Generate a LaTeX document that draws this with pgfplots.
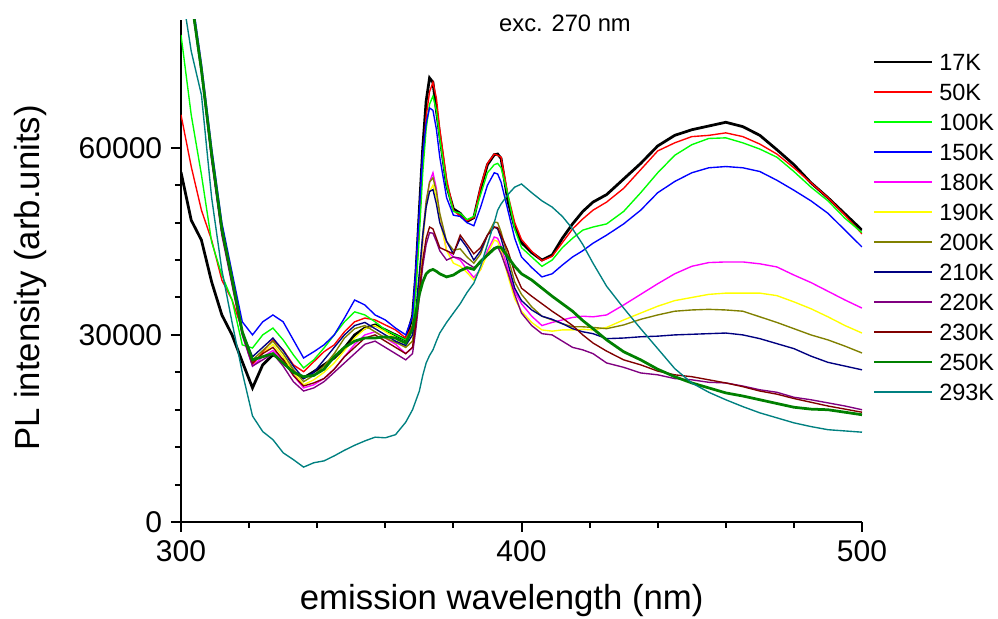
\documentclass[border=0pt]{standalone}
\usepackage{fontspec}
\setmainfont{Liberation Sans}
\usepackage{pgfplots}
\usepackage{pgfplotstable}
\pgfplotsset{compat=1.18}
\definecolor{cgreen}{RGB}{0,255,0}
\definecolor{cmag}{RGB}{255,0,255}
\definecolor{cyel}{RGB}{255,255,0}
\definecolor{colive}{RGB}{128,128,0}
\definecolor{cnavy}{RGB}{0,0,128}
\definecolor{cpurp}{RGB}{128,0,128}
\definecolor{cmaroon}{RGB}{128,0,0}
\definecolor{cdkgreen}{RGB}{0,128,0}
\definecolor{cteal}{RGB}{0,128,128}
% intensities in units of 1000
\pgfplotstableread{
x   k17  k50  k100 k150 k180 k190 k200 k210 k220 k230 k250 k293
300 56.1 65.3 78.1 95   95   95   95   95   95   95   95   86
303 48.4 57.0 65.3 85   84   84   84.5 84   83.5 84   84   75.5
306 45.2 50.0 55.7 73.5 72.5 72.5 73   72.5 72   72.5 72.5 68.5
309 38.5 45.2 44.9 60   58.5 58.5 59   58.5 58   58.5 59   52
312 33.2 38.8 39.6 48   46.5 46.5 47   46.5 46   46.5 47   40.4
315 30.0 35.6 35.6 40   38.5 38.5 39   38.5 38   38.5 39   32.0
318 25.7 30.8 28.4 32.1 30.0 30.3 30.5 30.5 30   30.3 30.5 24
321 21.5 25.2 27.9 30.0 25.0 25.5 26   26.5 25.0 25.5 26.0 17
324 25.2 27.3 30.0 32.1 26.5 27   27.5 28.0 26.0 27.0 26.5 14.5
327 26.8 29.2 31.1 33.2 27.5 28.5 29   29.5 27.0 28.0 27.0 13.2
330 26.0 27.6 29.2 32.1 25.8 26.5 27   27.5 25.0 26.0 25.5 11.1
333 24.1 25.2 26.8 29.2 23.5 24.0 24.5 25.0 22.5 23.5 24.0 10.0
336 23.1 24.1 24.7 26.3 21.5 22.0 22.5 23.0 21.0 21.8 23.3 8.8
339 24.1 25.7 26.0 27.3 22.0 22.8 23.5 24.0 21.5 22.3 23.5 9.5
342 25.2 27.3 27.9 28.4 23.0 24.0 25.0 26.0 22.5 23.0 24.5 9.8
345 26.3 28.4 30.0 30.0 24.5 25.5 27.0 28.0 24.0 24.5 26.5 10.6
348 27.9 30.5 32.1 32.7 26.5 27.5 29.5 30.0 25.5 26.5 28.0 11.5
351 30.0 32.1 33.7 35.6 28.5 29.5 31.0 31.5 27.0 28.0 29.0 12.3
354 31.1 32.7 33.2 34.8 30.0 31.0 31.5 32.0 28.5 29.5 29.5 13.0
357 31.6 32.4 32.1 33.2 30.5 31.5 30.5 31.0 29.0 30.0 29.5 13.6
360 30.8 31.6 30.8 32.4 29.5 30.5 29.5 30.0 28.0 29.0 29.7 13.5
363 30.0 30.8 30.0 31.1 28.5 29.5 28.8 29.0 27.0 28.0 29.5 14.0
366 29.2 29.5 29.2 30.0 27.0 28.0 28.0 28.3 26.0 27.0 28.7 16.0
368 33.0 31.5 31.0 33.0 28   29   29   30   27   28   31   18.0
369 40   38   37   41   32   33   33   34   31   32   33.5 19.5
370 50   48   46   50   38   38   39   40   36   37   36.5 21.0
371 60   58   56   59   45   45   46   46   41   42   38.5 23.5
372 67.5 65   63   64   51   50.5 51.5 50.5 44.5 45.5 39.8 25.5
373 71.2 69   67   66.4 54.5 53.0 54.5 53.0 46.4 47.3 40.3 26.7
374 70.5 70.5 68.3 66.0 56.0 54.0 55.2 53.3 46.3 47.0 40.5 27.6
375 66   68   66   63   53.5 52   53   51   45   45.5 40.2 29.0
376 62   63   61.5 58.5 49   48.5 49.5 48   43.5 44   39.8 30.3
378 54   55   54   52   43.5 43.5 45   45   42   43.5 39.3 32.0
380 50.2 50   49.8 49.2 42.5 41.5 43.6 43.0 42.5 43   39.6 33.5
382 49.5 49   49.5 49.0 42   41   43.8 45.5 42.3 46   40.3 35.0
384 48.2 48.3 48.5 48   40.5 40   42.5 44.0 41.5 44.5 40.8 36.8
386 48.8 48.8 49   47.5 39.2 38.8 41.5 42.0 40.8 43   40.5 38.3
388 53.5 53.8 52.5 50.5 40.5 40.5 43   43.5 41.5 44.0 41.8 41.0
390 57.3 57.5 56   54   43.5 43.0 46   46   43.0 46   42.8 44.5
392 58.9 59.0 57.3 56.0 45.7 45.2 48.1 47.3 44.0 47.3 43.8 48.0
393 59.0 58.8 57.5 55.8 45.5 45.0 48.0 47.0 44.1 47.2 44.1 50.0
394 58.3 58.5 56.8 54.5 44.2 43.5 46.5 45.5 43.0 46.0 44.0 51.0
396 51.5 52.5 52.5 50.0 40.5 39.5 42.5 41.5 40.0 43.5 42.5 52.5
398 47.3 48   47   45.5 37.0 35.8 38.5 37.5 36.5 40.0 41.0 53.7
400 44.8 45.3 44   42.5 35.0 33.8 36.5 35.5 33.5 37.5 39.8 54.2
403 43.2 43.4 42.5 40.8 33.0 32.0 34.5 34.0 31.5 36.2 38.8 52.8
406 42.0 41.9 41.0 39.3 31.5 30.8 33.0 33.0 30.2 35.0 37.5 51.5
409 42.8 42.6 42.0 39.8 32.0 30.6 32.4 32.5 30.0 33.8 36.2 50.5
412 45.5 44.8 44.0 41.2 32.4 30.8 31.8 31.8 29.0 32.7 35.0 49.0
415 47.8 47.0 45.5 42.5 32.8 30.8 31.3 31.0 28.0 31.5 33.8 47.0
418 49.8 48.6 46.8 43.5 33.0 30.9 31.3 30.5 27.6 30.0 32.3 44.5
421 51.3 50.0 47.3 44.7 32.9 30.8 31.2 30.2 27.0 28.7 31.0 41.5
425 52.5 51.3 47.8 46.0 33.2 31.2 31.0 29.4 25.5 27.4 29.2 37.8
430 55.0 53.5 49.8 47.8 34.8 32.4 31.6 29.5 24.8 26.0 27.3 34.3
435 57.5 56.5 52.8 50.0 36.5 33.5 32.5 29.7 23.9 25.2 26.0 31.0
440 60.3 59.5 56.0 52.8 38.2 34.6 33.2 29.8 23.6 24.2 24.5 27.8
445 62.0 60.8 58.8 54.6 39.8 35.5 33.8 30.0 23.0 23.6 23.3 24.6
450 62.9 61.8 60.5 56.0 41.0 36.0 34.0 30.1 22.8 23.3 22.3 22.3
455 63.5 62.0 61.5 56.8 41.6 36.5 34.1 30.2 22.4 22.8 21.5 20.8
460 64.1 62.4 61.6 57.0 41.7 36.7 34.0 30.3 22.3 22.3 20.7 19.6
465 63.4 61.8 60.8 56.8 41.7 36.7 33.8 30.0 21.8 21.7 20.2 18.5
470 62.0 60.6 59.8 56.2 41.4 36.7 32.9 29.4 21.2 21.0 19.6 17.5
475 59.7 59.0 58.5 54.8 40.9 36.3 32.0 28.6 20.8 20.5 19.0 16.7
480 57.3 56.8 56.2 53.2 39.6 35.3 31.0 27.8 20.0 19.8 18.4 15.9
485 54.4 54.4 53.7 51.5 38.4 34.2 30.0 26.6 19.6 19.2 18.1 15.3
490 52.0 52.0 51.5 49.5 37.0 32.9 29.2 25.6 19.1 18.6 18.0 14.8
495 49.4 49.2 48.7 46.8 35.6 31.5 28.2 25.0 18.6 18.1 17.6 14.6
500 46.8 46.2 46.4 44.1 34.3 30.3 27.1 24.4 18.0 17.6 17.2 14.4
}\data
\begin{document}
\begin{tikzpicture}
\useasboundingbox (0,0) rectangle (399.2pt,247.6pt);
\begin{axis}[
  at={(72.4pt,38.8pt)}, anchor=south west,
  scale only axis, width=272.4pt, height=200.8pt,
  xmin=300, xmax=500, ymin=0, ymax=80.5,
  axis x line*=bottom, axis y line*=left,
  axis line style={line width=0.8pt},
  every tick/.style={line width=0.8pt, black},
  tick align=outside,
  major tick length=4pt, minor tick length=2.4pt,
  xtick={300,400,500}, minor x tick num=4,
  ytick={0,30,60}, yticklabels={0,30000,60000}, minor y tick num=4,
  tick label style={font=\fontsize{12}{14}\selectfont},
  /pgf/number format/assume math mode=true,
  xlabel={emission wavelength (nm)},
  ylabel={PL intensity (arb.units)},
  every axis x label/.style={at={(axis description cs:0.471,-0.1753)}, anchor=base, font=\fontsize{13.9}{16}\selectfont},
  every axis y label/.style={at={(axis description cs:-0.2085,0.486)}, anchor=base, rotate=90, font=\fontsize{13.9}{16}\selectfont},
  legend style={at={(1,1)}, anchor=north west, xshift=4.4pt, yshift=-13.4pt,
    draw=none, fill=none, inner sep=0pt, outer sep=0pt,
    font=\fontsize{9.4}{10}\selectfont, row sep=5.2pt, column sep=2.4pt,
    nodes={inner sep=0pt, text height=6.8pt, text depth=0pt}},
  legend cell align=left,
  legend image code/.code={\draw[#1] (0pt,0pt) -- (23pt,0pt);},
]
\addplot[black, line width=1.1pt] table[x=x, y=k17] {\data};
\addlegendentry{17K}
\addplot[red, line width=0.55pt] table[x=x, y=k50] {\data};
\addlegendentry{50K}
\addplot[cgreen, line width=0.55pt] table[x=x, y=k100] {\data};
\addlegendentry{100K}
\addplot[blue, line width=0.55pt] table[x=x, y=k150] {\data};
\addlegendentry{150K}
\addplot[cmag, line width=0.55pt] table[x=x, y=k180] {\data};
\addlegendentry{180K}
\addplot[cyel, line width=0.55pt] table[x=x, y=k190] {\data};
\addlegendentry{190K}
\addplot[colive, line width=0.55pt] table[x=x, y=k200] {\data};
\addlegendentry{200K}
\addplot[cnavy, line width=0.55pt] table[x=x, y=k210] {\data};
\addlegendentry{210K}
\addplot[cpurp, line width=0.55pt] table[x=x, y=k220] {\data};
\addlegendentry{220K}
\addplot[cmaroon, line width=0.55pt] table[x=x, y=k230] {\data};
\addlegendentry{230K}
\addplot[cdkgreen, line width=1.1pt] table[x=x, y=k250] {\data};
\addlegendentry{250K}
\addplot[cteal, line width=0.55pt] table[x=x, y=k293] {\data};
\addlegendentry{293K}
\end{axis}
\node[anchor=base, font=\fontsize{9.5}{11}\selectfont] at (226pt,234.8pt) {exc. 270 nm};
\end{tikzpicture}
\end{document}
